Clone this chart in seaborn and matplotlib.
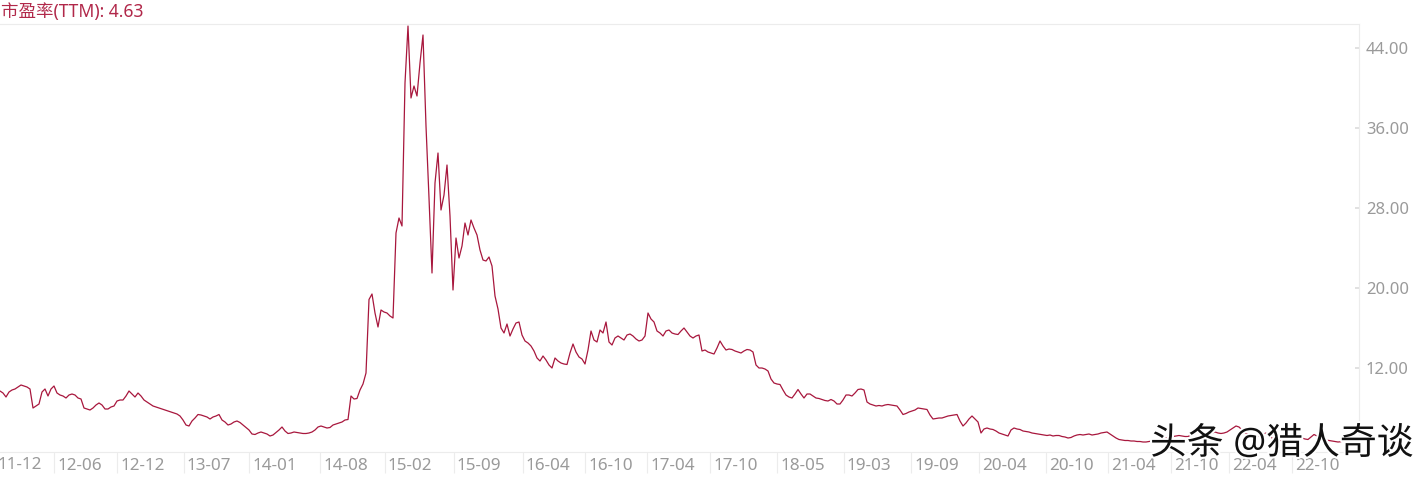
import numpy as np
import pandas as pd
import matplotlib
matplotlib.use("Agg")
import matplotlib.pyplot as plt
import matplotlib.transforms as mtransforms
import matplotlib.patheffects as pe_fx
import seaborn as sns

# ---------------- data ----------------
title_label = "市盈率(TTM): 4.63"
watermark = "头条 @猎人奇谈"

# PE(TTM) series, one value per sampling step
pe_seg_a = [
    9.7, 9.5, 9.1, 9.6, 9.8, 9.9, 10.1, 10.3, 10.2, 10.1,
    9.9, 8.0, 8.2, 8.4, 9.6, 9.9, 9.2, 9.9, 10.2, 9.5,
    9.3, 9.2, 9.0, 9.3, 9.4, 9.3, 9.0, 8.9, 8.0, 7.9,
    7.8, 8.0, 8.3, 8.5, 8.3, 7.9, 7.9, 8.1, 8.2, 8.7,
    8.8, 8.8, 9.2, 9.7, 9.4, 9.1, 9.5, 9.2, 8.8, 8.6,
    8.4, 8.2, 8.1, 8.0, 7.9, 7.8, 7.7, 7.6, 7.5, 7.4,
    7.2, 6.8, 6.3, 6.2, 6.7, 7.0, 7.35, 7.3, 7.2, 7.1,
    6.9, 7.1, 7.2, 7.35, 6.8, 6.6, 6.3, 6.4, 6.6, 6.7,
]
pe_seg_b = [
    6.55, 6.3, 6.05, 5.8, 5.4, 5.35, 5.5, 5.6, 5.5, 5.4,
    5.2, 5.3, 5.55, 5.8, 6.1, 5.7, 5.45, 5.5, 5.6, 5.55,
    5.5, 5.45, 5.45, 5.5, 5.6, 5.8, 6.1, 6.2, 6.1, 6.0,
    6.05, 6.3, 6.4, 6.5, 6.6, 6.8, 6.85, 9.2, 8.9, 8.95,
    9.8, 10.4, 11.5, 18.85, 19.4, 17.5, 16.1, 17.8, 17.6, 17.5,
    17.2, 17.0, 25.5, 27.0,
]
pe_seg_c = [
    26.2, 40.5, 46.2, 39.0, 40.2, 39.2, 42.5, 45.3, 36.2, 29.0,
    21.5, 30.5, 33.5, 27.8, 29.3, 32.3, 27.2, 19.8, 25.0, 23.0,
    24.2, 26.5, 25.3, 26.8, 26.0, 25.3, 23.8, 22.8, 22.7, 23.1,
    22.2, 19.2, 17.9, 16.0, 15.5, 16.4, 15.2, 15.9, 16.5, 16.6,
    15.3, 14.7, 14.5, 14.2, 13.7, 13.0, 12.7, 13.2, 12.8, 12.3,
    12.0, 13.0, 12.7,
]
pe_seg_d = [
    12.5, 12.4, 12.35, 13.5, 14.4, 13.6, 13.1, 12.9, 12.4, 13.8,
    15.7, 14.8, 14.6, 15.8, 15.5, 16.6, 14.6, 14.3, 15.0, 15.2,
    15.0, 14.8, 15.3, 15.4, 15.2, 14.9, 14.7, 14.8, 15.2, 17.5,
    16.9, 16.6, 15.7, 15.5, 15.2, 15.7, 15.8, 15.5, 15.4, 15.35,
    15.7, 16.0, 15.6, 15.2, 15.0, 15.2, 15.3, 13.7, 13.8, 13.6,
    13.5, 13.4, 14.0, 14.7, 14.2, 13.8, 13.9, 13.85, 13.7, 13.6,
    13.5, 13.7, 13.85, 13.8, 13.6, 12.3, 12.0, 12.0, 11.9, 11.7,
    10.9, 10.5, 10.4, 10.35,
]
pe_seg_e = [
    9.8, 9.3, 9.1, 9.0, 9.4, 9.85, 9.4, 9.0, 9.4, 9.4,
    9.2, 9.0, 8.95, 8.85, 8.75, 8.7, 8.85, 8.7, 8.4, 8.4,
    8.8, 9.3, 9.3, 9.2, 9.5, 9.85, 9.9, 9.8, 8.6, 8.4,
    8.3, 8.2, 8.25, 8.2, 8.3, 8.35, 8.3, 8.25, 8.2, 7.8,
    7.35, 7.45, 7.6, 7.7, 7.8, 8.0, 7.95, 7.9, 7.85, 7.3,
    6.9, 6.95, 7.0, 7.0, 7.1, 7.2, 7.25, 7.3, 7.35, 6.7,
    6.2, 6.5, 6.9, 7.2, 6.9, 6.6, 5.5, 5.9, 6.0, 5.9,
    5.85, 5.7, 5.5, 5.4, 5.3, 5.2, 5.8, 6.0, 5.9, 5.85,
]
pe_seg_f = [
    5.7, 5.65, 5.6, 5.5, 5.45, 5.4, 5.35, 5.3, 5.25, 5.3,
    5.2, 5.25, 5.25, 5.15, 5.1, 5.0, 5.05, 5.2, 5.3, 5.35,
    5.3, 5.35, 5.4, 5.3, 5.35, 5.4, 5.5, 5.55, 5.6, 5.4,
    5.2, 5.0, 4.85, 4.8, 4.75, 4.75, 4.7, 4.7, 4.65, 4.65,
    4.6, 4.6, 4.65, 4.7, 4.8, 4.85, 4.9, 4.95, 5.0, 5.1,
    5.15, 5.2, 5.25, 5.2, 5.15, 5.15, 5.3, 5.4, 5.5, 5.5,
    5.45, 5.5, 5.55, 5.5, 5.6, 5.5, 5.45, 5.5, 5.6, 5.8,
    6.0, 6.2, 6.1, 5.8, 5.5, 5.4, 5.35, 5.3, 5.25, 5.2,
    5.35, 5.5, 5.3, 5.0, 4.9, 4.8, 4.75, 4.7, 4.75, 4.8,
    4.85, 5.0, 5.2, 5.0, 4.9, 4.85, 5.1, 5.35, 5.2, 5.0,
    4.9, 4.8, 4.75, 4.7, 4.65, 4.6, 4.63,
]
pe_values = pe_seg_a + pe_seg_b + pe_seg_c + pe_seg_d + pe_seg_e + pe_seg_f

# date tick labels and their position on the sampling index
tick_labels = ["11-12", "12-06", "12-12", "13-07", "14-01", "14-08", "15-02",
               "15-09", "16-04", "16-10", "17-04", "17-10", "18-05", "19-03",
               "19-09", "20-04", "20-10", "21-04", "21-10", "22-04", "22-10"]
tick_index = [-2, 18, 39, 61.3, 83, 106.7, 128.3, 151.3, 174.3, 195, 215.7,
              236.7, 259, 281.3, 303.7, 326.3, 348.7, 369.3, 390.3, 409.7, 430.7]
y_ticks = [12, 20, 28, 36, 44]

# ---------------- style ----------------
sns.set_theme(style="white")
plt.rcParams["font.family"] = ["Noto Sans", "Noto Sans CJK SC", "DejaVu Sans"]

LINE_COLOR = "#a8173d"
TEXT_RED = "#b1284a"
GRAY_TXT = "#9a9a9a"
GRID = "#ececec"

fig = plt.figure(figsize=(14.28, 4.78), dpi=100)
W, H = 1428, 478
ax_left, ax_right, ax_top, ax_bottom = 0, 1359, 24, 452
ax = fig.add_axes([ax_left / W, 1 - ax_bottom / H,
                   (ax_right - ax_left) / W, (ax_bottom - ax_top) / H])

df = pd.DataFrame({"idx": np.arange(len(pe_values)), "pe": pe_values})
sns.lineplot(data=df, x="idx", y="pe", ax=ax, color=LINE_COLOR,
             linewidth=0.9, legend=False)

ax.set_xlim(0, ax_right / 3)
ax.set_ylim(3.6, 46.4)
ax.set_xlabel("")
ax.set_ylabel("")

# y axis on the right
ax.yaxis.tick_right()
ax.set_yticks(y_ticks)
ax.set_yticklabels([f"{v:.2f}" for v in y_ticks])
ax.tick_params(axis="y", which="both", right=True, left=False,
               direction="in", length=3, color="#dddddd",
               labelcolor=GRAY_TXT, labelsize=12, pad=5)

# x ticks: long faint separators below the axis, labels left-aligned
vis_idx = [t for t in tick_index if t >= 0]
vis_lab = [l for t, l in zip(tick_index, tick_labels) if t >= 0]
ax.set_xticks(vis_idx)
ax.set_xticklabels(vis_lab)
ax.tick_params(axis="x", bottom=True, direction="out", length=15,
               width=0.8, color=GRID, labelcolor=GRAY_TXT, labelsize=12.3,
               pad=-11)
offset = mtransforms.ScaledTranslation(3 / 100, 0, fig.dpi_scale_trans)
for lab in ax.get_xticklabels():
    lab.set_horizontalalignment("left")
    lab.set_transform(lab.get_transform() + offset)

# the first, partly cut date label
first_tr = mtransforms.blended_transform_factory(ax.transData, fig.transFigure)
ax.text(tick_index[0], 1 - 465 / H, tick_labels[0], transform=first_tr + offset,
        ha="left", va="center", color=GRAY_TXT, fontsize=12.3, clip_on=False)

for side in ["top", "bottom", "right"]:
    ax.spines[side].set_color(GRID)
    ax.spines[side].set_linewidth(0.8)
ax.spines["left"].set_visible(False)
ax.grid(False)

# title label top-left
fig.text(1 / W, 1 - 12 / H, title_label, color=TEXT_RED, fontsize=12.6,
         ha="left", va="center")

# watermark
fig.text(1150 / W, 1 - 445 / H, watermark, color="#111111", fontsize=26.5,
         ha="left", va="center",
         path_effects=[pe_fx.withStroke(linewidth=3, foreground="white")])

fig.savefig("out.png", dpi=100)
